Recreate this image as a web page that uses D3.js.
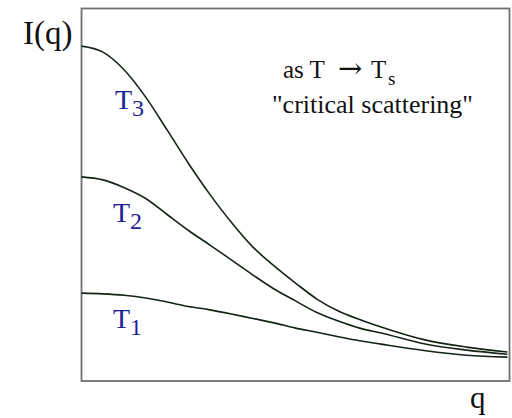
<!DOCTYPE html>
<html>
<head>
<meta charset="utf-8">
<script src="https://cdn.jsdelivr.net/npm/d3@7"></script>
<style>
  html, body { margin: 0; padding: 0; background: #fff; }
  svg { display: block; font-family: "Liberation Serif", Tinos, serif; }
</style>
</head>
<body>
<svg id="chart" width="512" height="418"></svg>
<script>
// Scattering vector q (arbitrary units) where each curve is sampled
const qValues = [0, 0.5, 1, 1.5, 2, 2.5, 3, 3.5, 4, 4.5, 5, 5.5, 6, 6.5, 7, 8, 9, 9.95];

// Scattered intensity I(q) (arbitrary units) for three temperatures, T1 > T2 > T3 near Ts
const intensityT1 = [23.6, 23.4, 23.0, 22.3, 21.2, 20.0, 19.1, 18.0, 16.8, 15.6, 14.2, 13.1, 11.9, 10.8, 9.9, 8.2, 6.9, 6.4];
const intensityT2 = [54.8, 54.0, 51.9, 49.0, 44.7, 40.4, 36.5, 32.5, 28.5, 24.7, 21.5, 18.4, 16.1, 14.2, 12.9, 10.0, 8.3, 7.2];
const intensityT3 = [89.9, 88.3, 83.5, 76.2, 67.4, 58.4, 50.1, 42.6, 36.0, 30.9, 26.3, 22.0, 18.8, 16.5, 14.5, 11.1, 9.1, 7.8];

const seriesNames = ["1", "2", "3"];

const SERIF = "'Liberation Serif', Tinos, serif";

const svg = d3.select("#chart");

const x = d3.scaleLinear().domain([0, 10]).range([81.5, 509.5]);
const y = d3.scaleLinear().domain([0, 100]).range([381, 8.5]);

// Frame around the plot area
svg.append("rect")
  .attr("x", x(0)).attr("y", y(100))
  .attr("width", x(10) - x(0)).attr("height", y(0) - y(100))
  .attr("fill", "none")
  .attr("stroke", "#707070")
  .attr("stroke-width", 1.8);

const series = [intensityT1, intensityT2, intensityT3].map((vals, i) => ({
  name: seriesNames[i],
  points: qValues.map((q, j) => ({ q, I: vals[j] }))
}));

const line = d3.line()
  .x(d => x(d.q))
  .y(d => y(d.I))
  .curve(d3.curveMonotoneX);

svg.append("g")
  .selectAll("path")
  .data(series)
  .join("path")
  .attr("d", d => line(d.points))
  .attr("fill", "none")
  .attr("stroke", "#142414")
  .attr("stroke-width", 1.6);

// Temperature labels under each curve
const labelPos = [
  { name: "1", x: 113, y: 328 },
  { name: "2", x: 113, y: 222 },
  { name: "3", x: 115, y: 109 }
];
labelPos.forEach(p => {
  const t = svg.append("text")
    .attr("x", p.x).attr("y", p.y)
    .style("font-family", SERIF)
    .attr("fill", "#1e1e9a")
    .attr("font-size", 28);
  t.append("tspan").text("T");
  t.append("tspan").attr("dy", 7).attr("font-size", 24).text(p.name);
});

// Axis labels
svg.append("text")
  .attr("x", 23).attr("y", 44)
  .style("font-family", SERIF)
  .attr("font-size", 33)
  .attr("fill", "#111")
  .text("I(q)");

svg.append("text")
  .attr("x", 470).attr("y", 408)
  .style("font-family", SERIF)
  .attr("font-size", 31)
  .attr("fill", "#111")
  .text("q");

// Annotation: "as T → Ts"
const ann = svg.append("text")
  .attr("y", 78)
  .style("font-family", SERIF)
  .attr("font-size", 25)
  .attr("fill", "#111");
ann.append("tspan").attr("x", 283).text("as T");
ann.append("tspan").attr("x", 338)
  .style("font-family", "'DejaVu Serif', serif")
  .attr("font-size", 29)
  .text("\u2192");
ann.append("tspan").attr("x", 371).text("T");
ann.append("tspan").attr("x", 388).attr("dy", 7).attr("font-size", 19).text("s");

svg.append("text")
  .attr("x", 272).attr("y", 113)
  .style("font-family", SERIF)
  .attr("font-size", 26)
  .attr("fill", "#111")
  .text("\"critical scattering\"");
</script>
</body>
</html>
